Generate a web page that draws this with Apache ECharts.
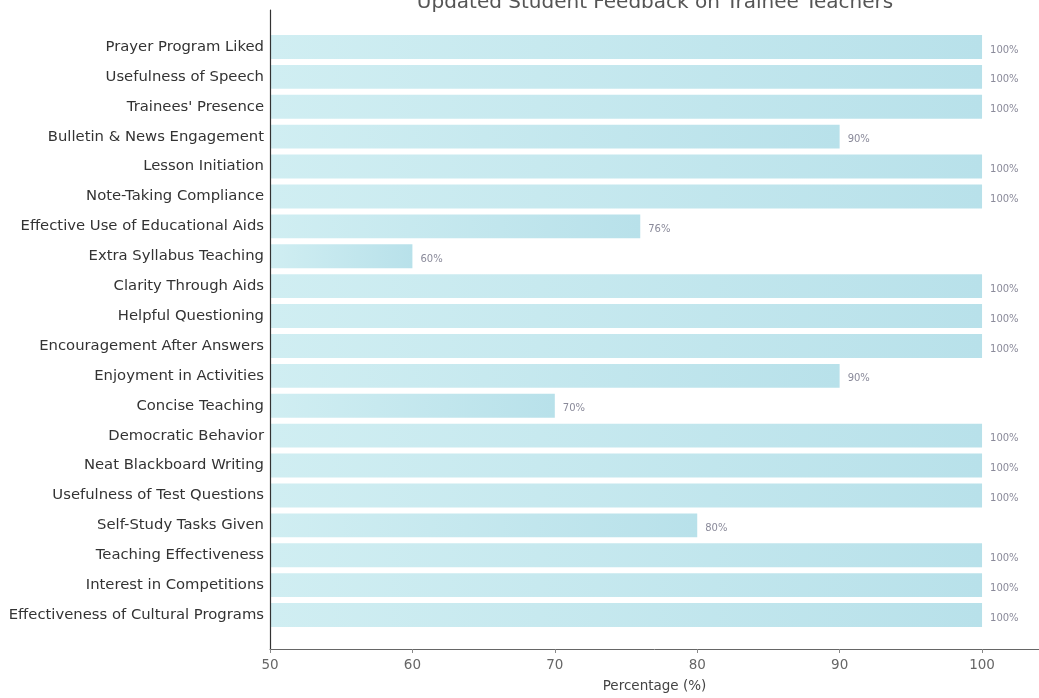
<!DOCTYPE html>
<html>
<head>
<meta charset="utf-8">
<script src="https://cdn.jsdelivr.net/npm/echarts@6/dist/echarts.min.js"></script>
<style>html,body{margin:0;padding:0;background:#fff}#c{width:1039px;height:698px}</style>
</head>
<body>
<div id="c"></div>
<script>
const categories = [
  "Prayer Program Liked",
  "Usefulness of Speech",
  "Trainees' Presence",
  "Bulletin & News Engagement",
  "Lesson Initiation",
  "Note-Taking Compliance",
  "Effective Use of Educational Aids",
  "Extra Syllabus Teaching",
  "Clarity Through Aids",
  "Helpful Questioning",
  "Encouragement After Answers",
  "Enjoyment in Activities",
  "Concise Teaching",
  "Democratic Behavior",
  "Neat Blackboard Writing",
  "Usefulness of Test Questions",
  "Self-Study Tasks Given",
  "Teaching Effectiveness",
  "Interest in Competitions",
  "Effectiveness of Cultural Programs"
];
const values = [100, 100, 100, 90, 100, 100, 76, 60, 100, 100, 100, 90, 70, 100, 100, 100, 80, 100, 100, 100];
const xTicks = [50, 60, 70, 80, 90, 100];
const title = "Updated Student Feedback on Trainee Teachers";
const xName = "Percentage (%)";

const chart = echarts.init(document.getElementById('c'));
const font = "DejaVu Sans";
chart.setOption({
  backgroundColor: '#fff',
  animation: false,
  title: {
    text: title, left: 650, textAlign: 'center', top: -12,
    textStyle: {fontFamily: font, fontSize: 20, fontWeight: 'normal', color: '#555'}
  },
  grid: [
    {left: 270, right: 0, top: 10, bottom: 48},
    {left: 270, right: 0, top: 32, bottom: 68}
  ],
  xAxis: [
    {gridIndex: 0, type: 'value', min: xTicks[0], max: 104, interval: 10, z: 10,
     name: xName, nameLocation: 'middle', nameGap: 30,
     nameTextStyle: {fontFamily: font, fontSize: 13.5, color: '#444'},
     axisLine: {show: true, lineStyle: {color: '#666', width: 1}},
     axisTick: {show: true, length: 4, lineStyle: {color: '#888'}},
     axisLabel: {fontFamily: font, fontSize: 13.5, color: '#666', showMaxLabel: false, margin: 9},
     splitLine: {show: false}},
    {gridIndex: 1, type: 'value', min: xTicks[0], max: 104, show: false, splitLine: {show: false}}
  ],
  yAxis: [
    {gridIndex: 0, type: 'value', min: 0, max: 1, z: 10,
     axisLine: {show: true, lineStyle: {color: '#333', width: 1.2}},
     axisTick: {show: false}, axisLabel: {show: false}, splitLine: {show: false}},
    {gridIndex: 1, type: 'category', data: categories, inverse: true,
     axisLine: {show: false},
     axisTick: {show: false},
     axisLabel: {fontFamily: font, fontSize: 14.8, color: '#333', margin: 6},
     splitLine: {show: false}}
  ],
  series: [{
    type: 'bar', xAxisIndex: 1, yAxisIndex: 1, z: 2,
    data: values, barWidth: '80%',
    itemStyle: {
      color: new echarts.graphic.LinearGradient(0, 0, 1, 0, [
        {offset: 0, color: '#d0eef2'}, {offset: 1, color: '#b8e1ea'}
      ])
    },
    label: {show: true, position: 'right', distance: 8, offset: [0, 3],
      formatter: p => p.value + '%', fontFamily: font, fontSize: 10, color: '#8a8a9a'}
  }]
});
</script>
</body>
</html>
